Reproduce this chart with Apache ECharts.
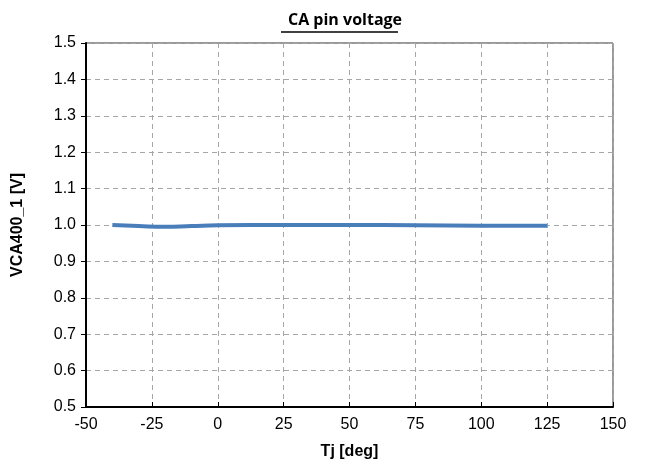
<!DOCTYPE html>
<html>
<head>
<meta charset="utf-8">
<script src="https://cdn.jsdelivr.net/npm/echarts@6/dist/echarts.min.js"></script>
<style>
  html, body { margin: 0; padding: 0; background: #fff; }
  #chart { width: 649px; height: 474px; }
</style>
</head>
<body>
<div id="chart"></div>
<script>
// 数据
const tempC = [-40, -30, -20, -10, 0, 25, 50, 75, 100, 125];
const vca = [1.000, 0.997, 0.995, 0.997, 0.999, 1.000, 1.000, 0.999, 0.998, 0.998];
const xTicks = [-50, -25, 0, 25, 50, 75, 100, 125, 150];
const yTicks = [0.5, 0.6, 0.7, 0.8, 0.9, 1.0, 1.1, 1.2, 1.3, 1.4, 1.5];

const chart = echarts.init(document.getElementById('chart'));
const labelFont = { fontFamily: 'Liberation Sans', fontSize: 16, color: '#000' };

chart.setOption({
    animation: false,
    title: {
        text: 'CA pin voltage',
        left: 340, top: 7, textAlign: 'center',
        textStyle: { fontFamily: 'Open Sans', fontWeight: 'bold', fontSize: 16, color: '#000' }
    },
    graphic: [{
        type: 'line',
        shape: { x1: 281, y1: 32, x2: 398, y2: 32 },
        style: { stroke: '#000', lineWidth: 1.3 }
    }],
    grid: {
        left: 86, right: 36, top: 43, bottom: 67,
        show: true, borderColor: '#333', borderWidth: 1
    },
    xAxis: {
        type: 'value',
        min: xTicks[0], max: xTicks[xTicks.length - 1], interval: 25,
        name: 'Tj [deg]', nameLocation: 'middle', nameGap: 37,
        nameTextStyle: { ...labelFont, fontWeight: 'bold' },
        axisLine: { onZero: false, lineStyle: { color: '#000', width: 2 } },
        axisTick: { inside: true, length: 5, lineStyle: { color: '#000' } },
        axisLabel: { ...labelFont, margin: 10 },
        splitLine: { lineStyle: { color: '#a6a6a6', type: [5, 4] } }
    },
    yAxis: {
        type: 'value',
        min: yTicks[0], max: yTicks[yTicks.length - 1], interval: 0.1,
        name: 'VCA400_1 [V]', nameLocation: 'middle', nameGap: 60,
        nameTextStyle: { ...labelFont, fontWeight: 'bold' },
        axisLine: { show: true, onZero: false, lineStyle: { color: '#000', width: 2 } },
        axisTick: { show: true, length: 5, lineStyle: { color: '#000' } },
        axisLabel: { ...labelFont, margin: 10, formatter: v => v.toFixed(1) },
        splitLine: { lineStyle: { color: '#a6a6a6', type: [5, 4] } }
    },
    series: [{
        type: 'line',
        data: tempC.map((t, i) => [t, vca[i]]),
        smooth: true,
        showSymbol: false,
        lineStyle: { color: '#4a7ebb', width: 4 }
    }]
});
</script>
</body>
</html>
